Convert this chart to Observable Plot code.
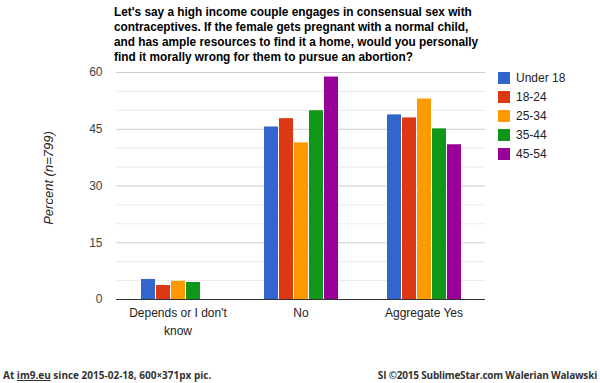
<!DOCTYPE html>
<html>
<head>
<meta charset="utf-8">
<script src="https://cdn.jsdelivr.net/npm/d3@7"></script>
<script src="https://cdn.jsdelivr.net/npm/@observablehq/plot@0.6"></script>
<style>
  html, body { margin: 0; padding: 0; background: #fff; }
  #wrap { position: relative; width: 600px; height: 383px; overflow: hidden; font-family: "Liberation Sans", Arial, sans-serif; }
  #title { position: absolute; left: 114px; top: 4px; font-size: 13px; font-weight: bold; line-height: 15px; color: #000; white-space: pre; transform: scaleX(0.91); transform-origin: 0 0; }
  #ylabel { position: absolute; left: 47.5px; top: 178px; transform: translate(-50%, -50%) rotate(-90deg); font-size: 13px; font-style: italic; color: #222; white-space: nowrap; }
  #legend { position: absolute; left: 498px; top: 68px; font-size: 12px; color: #222; }
  .row { display: flex; align-items: center; height: 19px; }
  .sw { width: 12px; height: 12px; margin-right: 6px; }
  #footer { position: absolute; left: 0; top: 369px; width: 600px; height: 13px; font-family: "Open Sans", sans-serif; font-weight: 700; font-size: 10px; line-height: 13px; color: #333; }
  #footer .l { position: absolute; left: 3px; }
  #footer .r { position: absolute; right: 3px; letter-spacing: -0.2px; }
  #chart { position: absolute; left: 0; top: 0; }
</style>
</head>
<body>
<div id="wrap">
  <div id="chart"></div>
  <div id="title"></div>
  <div id="ylabel"></div>
  <div id="legend"></div>
  <div id="footer"><span class="l">At <u>im9.eu</u> since 2015-02-18, 600×371px pic.</span><span class="r">SI ©2015 SublimeStar.com Walerian Walawski</span></div>
</div>
<script>
const titleLines = [
  "Let's say a high income couple engages in consensual sex with",
  "contraceptives. If the female gets pregnant with a normal child,",
  "and has ample resources to find it a home, would you personally",
  "find it morally wrong for them to pursue an abortion?"
];
const yLabel = "Percent (n=799)";
const categories = ["Depends or I don't know", "No", "Aggregate Yes"];
const categoryLabels = ["Depends or I don't\nknow", "No", "Aggregate Yes"];
const series = ["Under 18", "18-24", "25-34", "35-44", "45-54"];
const colors = ["#3366cc", "#dc3912", "#ff9900", "#109618", "#990099"];
const under18 = [5.3, 45.6, 48.8];
const age18_24 = [3.7, 47.8, 48.0];
const age25_34 = [4.8, 41.4, 53.0];
const age35_44 = [4.5, 49.9, 45.1];
const age45_54 = [null, 58.8, 40.9];
const yTicks = [0, 15, 30, 45, 60];
const yMinorTicks = [5, 10, 20, 25, 35, 40, 50, 55];

const seriesValues = [under18, age18_24, age25_34, age35_44, age45_54];
const data = [];
series.forEach((s, si) => {
  categories.forEach((c, ci) => {
    const v = seriesValues[si][ci];
    if (v != null) data.push({category: c, series: s, value: v});
  });
});

document.getElementById("title").textContent = titleLines.join("\n");
document.getElementById("ylabel").textContent = yLabel;
const legend = document.getElementById("legend");
series.forEach((s, i) => {
  const row = document.createElement("div");
  row.className = "row";
  const sw = document.createElement("div");
  sw.className = "sw";
  sw.style.background = colors[i];
  const t = document.createElement("span");
  t.textContent = s;
  row.appendChild(sw); row.appendChild(t);
  legend.appendChild(row);
});

const chart = Plot.plot({
  width: 600,
  height: 371,
  marginLeft: 116,
  marginRight: 115,
  marginTop: 72,
  marginBottom: 72,
  style: {fontFamily: "'Liberation Sans', Arial, sans-serif", background: "transparent"},
  fx: {domain: categories, padding: 0, label: null},
  x: {domain: series, axis: null, paddingInner: 0.1, paddingOuter: 1.65},
  y: {domain: [0, 60], label: null},
  color: {domain: series, range: colors},
  marks: [
    Plot.gridY(yMinorTicks, {stroke: "#ebebeb", strokeOpacity: 1}),
    Plot.gridY(yTicks, {stroke: "#cccccc", strokeOpacity: 1}),
    Plot.axisY(yTicks, {tickSize: 0, tickPadding: 14, label: null, fontSize: 12, fill: "#444"}),
    Plot.axisFx({anchor: "bottom", tickSize: 0, tickPadding: 5, label: null, fontSize: 12, fill: "#222", lineHeight: 1.5,
      tickFormat: (d) => categoryLabels[categories.indexOf(d)]}),
    Plot.barY(data, {fx: "category", x: "series", y: "value", fill: "series"}),
    Plot.ruleY([0], {stroke: "#333", strokeWidth: 1})
  ]
});
document.getElementById("chart").appendChild(chart);
</script>
</body>
</html>
